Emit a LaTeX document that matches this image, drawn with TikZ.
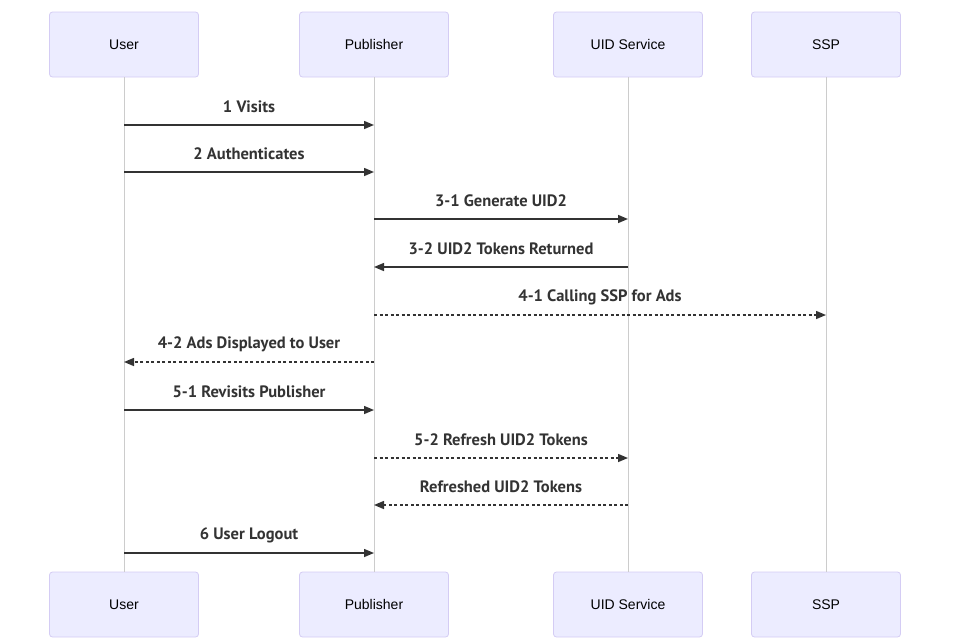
\documentclass[tikz,border=0pt]{standalone}
\usepackage{fontspec}
\setmainfont{Liberation Sans}
\newfontfamily\msgfont{PT Sans}
\usetikzlibrary{arrows.meta}
\definecolor{actfill}{HTML}{ECECFF}
\definecolor{actline}{HTML}{D4CCF4}
\definecolor{lifeln}{HTML}{CCCCCC}
\definecolor{msgcol}{HTML}{333333}
\tikzset{
	actor/.style={draw=actline, fill=actfill, rounded corners=3pt, line width=0.8pt,
		minimum width=149pt, minimum height=65pt, font=\fontsize{14}{16}\selectfont},
	lifeline/.style={draw=lifeln, line width=1pt},
	msg/.style={draw=msgcol, line width=1.5pt, -{Triangle[length=10pt,width=8pt]}},
	reply/.style={msg, dash pattern=on 3pt off 2.5pt},
	msglabel/.style={midway, yshift=18pt, text=msgcol, font=\msgfont\bfseries\fontsize{16.5}{18}\selectfont}
}
\begin{document}
\begin{tikzpicture}[x=1pt,y=-1pt]
	\useasboundingbox (0,0) rectangle (958,641);
	% participants, top and bottom
	\foreach \nm/\xx/\txt in {user/124/User, pub/374/Publisher, uid/628/UID Service, ssp/826/SSP} {
		\node[actor] (\nm T) at (\xx,44.5) {\txt};
		\node[actor] (\nm B) at (\xx,604.5) {\txt};
		\draw[lifeline] (\nm T.south) -- (\nm B.north);
	}
	% messages
	\draw[msg] (userT |- 0,125) -- (pubT |- 0,125) node[msglabel] {1 Visits};
	\draw[msg] (userT |- 0,172) -- (pubT |- 0,172) node[msglabel] {2 Authenticates};
	\draw[msg] (pubT |- 0,219) -- (uidT |- 0,219) node[msglabel] {3-1 Generate UID2};
	\draw[msg] (uidT |- 0,267) -- (pubT |- 0,267) node[msglabel] {3-2 UID2 Tokens Returned};
	\draw[reply] (pubT |- 0,315) -- (sspT |- 0,315) node[msglabel] {4-1 Calling SSP for Ads};
	\draw[reply] (pubT |- 0,362) -- (userT |- 0,362) node[msglabel] {4-2 Ads Displayed to User};
	\draw[msg] (userT |- 0,410) -- (pubT |- 0,410) node[msglabel] {5-1 Revisits Publisher};
	\draw[reply] (pubT |- 0,458) -- (uidT |- 0,458) node[msglabel] {5-2 Refresh UID2 Tokens};
	\draw[reply] (uidT |- 0,505) -- (pubT |- 0,505) node[msglabel] {Refreshed UID2 Tokens};
	\draw[msg] (userT |- 0,553) -- (pubT |- 0,553) node[msglabel] {6 User Logout};
\end{tikzpicture}
\end{document}
